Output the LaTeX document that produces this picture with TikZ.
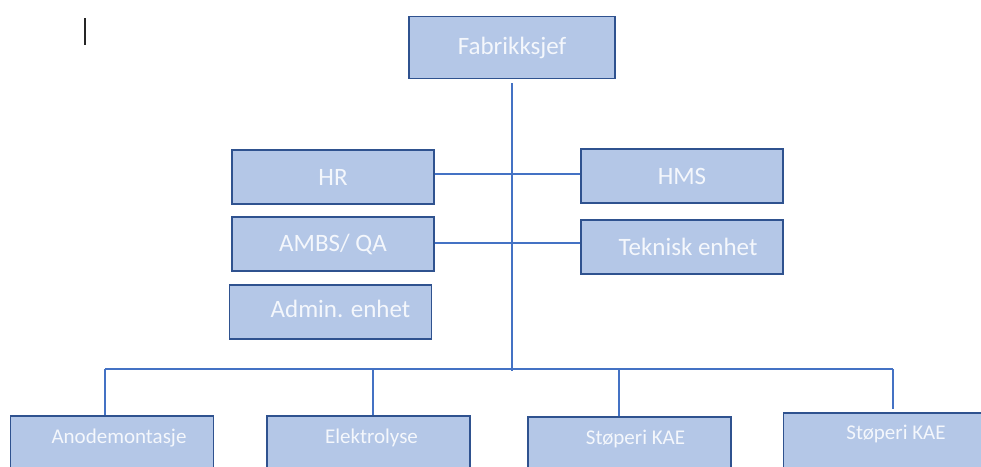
\documentclass[tikz,border=0pt]{standalone}
\usepackage{fontspec}
\setmainfont{Carlito}
\definecolor{boxfill}{HTML}{B4C7E7}
\definecolor{boxedge}{HTML}{2F528F}
\definecolor{linkblue}{HTML}{4472C4}
\definecolor{boxtext}{HTML}{F4F7FC}
\begin{document}
\begin{tikzpicture}[x=1pt,y=-1pt,
  box/.style={draw=boxedge, fill=boxfill, line width=1.3pt, rectangle,
    inner sep=0pt, text=boxtext, font=\fontsize{25}{30}\selectfont},
  topbox/.style={box, minimum width=202pt, minimum height=54pt},
  unitbox/.style={box, minimum width=203pt, minimum height=80pt},
  lbl/.style={text=boxtext, inner sep=0pt},
  unitlbl/.style={lbl, font=\fontsize{21}{25}\selectfont, yshift=18pt},
  link/.style={draw=linkblue, line width=1.4pt}]
\clip (0,0) rectangle (981,466);
\useasboundingbox (0,0) rectangle (981,466);

% text cursor
\draw[line width=1.2pt, black!85] (85,18) -- (85,45);

% management
\node[box, minimum width=206pt, minimum height=62pt] (fab) at (512,47.5) {Fabrikksjef};

% staff functions
\node[topbox] (hr)   at (333,177) {HR};
\node[topbox] (hms)  at (682,176) {HMS};
\node[topbox] (ambs) at (333,244) {AMBS/ QA};
\node[topbox, label={[lbl, font=\fontsize{25}{30}\selectfont, xshift=6pt]center:Teknisk enhet}] (tek) at (682,247) {};
\node[topbox, label={[lbl, font=\fontsize{25}{30}\selectfont, xshift=10pt, yshift=3pt]center:Admin. enhet}] (adm) at (330.5,312) {};

% production units
\node[unitbox, label={[unitlbl, xshift=7pt]center:Anodemontasje}] (ano) at (112,456) {};
\node[unitbox, label={[unitlbl, xshift=3pt]center:Elektrolyse}]   (ele) at (368.5,456) {};
\node[unitbox, label={[unitlbl, xshift=6pt]center:Støperi KAE}]   (st1) at (629.5,457) {};
\node[unitbox, label={[unitlbl, xshift=11pt, yshift=1pt]center:Støperi KAE}] (st2) at (885,453) {};

% bus coordinates
\coordinate (spine) at (512,371);
\coordinate (d1) at (105,369);
\coordinate (d2) at (373,369);
\coordinate (d3) at (619,369);
\coordinate (d4) at (893,369);

% connectors
\draw[link] ([yshift=-4pt]fab.south) -- (spine);
\draw[link] ([yshift=3pt]hr.east) -- ([yshift=3pt]hr.east -| hms.west);
\draw[link] ([yshift=1pt]ambs.east) -- ([yshift=1pt]ambs.east -| tek.west);
\draw[link] (d1) -- (d4);
\draw[link] (d1) -- (d1 |- ano.north);
\draw[link] (d2) -- (d2 |- ele.north);
\draw[link] (d3) -- (d3 |- st1.north);
\draw[link] (d4) -- ([yshift=3pt]d4 |- st2.north);
\end{tikzpicture}
\end{document}
